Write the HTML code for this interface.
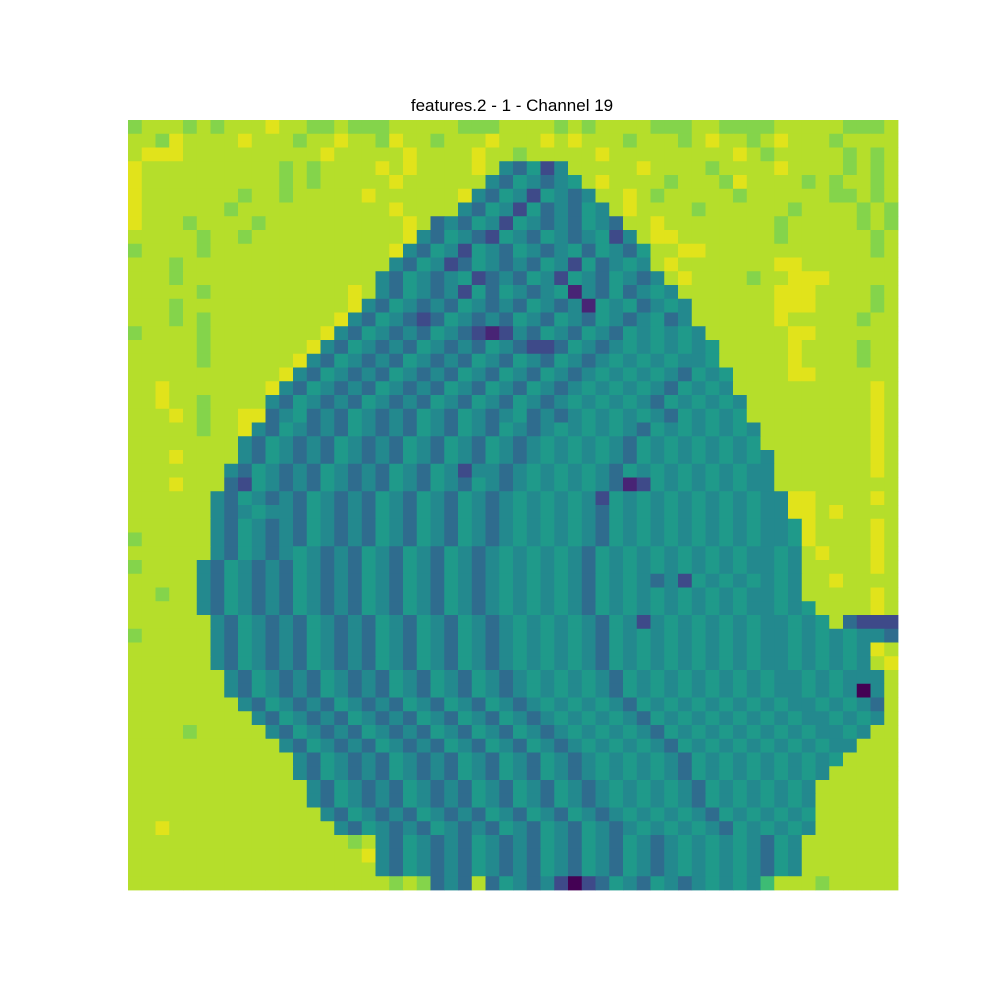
<!DOCTYPE html>
<html><head><meta charset="utf-8">
<style>
html,body{margin:0;padding:0;background:#fff;}
#wrap{position:relative;width:1000px;height:1000px;background:#fff;}
#title{position:absolute;left:0;width:1024px;top:96px;text-align:center;font-family:"Liberation Sans","DejaVu Sans",sans-serif;font-size:17px;color:#000;}
svg{position:absolute;left:0;top:0;}
</style></head>
<body>
<div id="wrap">
<div id="title">features.2 - 1 - Channel 19</div>
<svg id="heat" width="1000" height="1000"></svg>
</div>
<script>
const palette = ["#440154","#482475","#3e4a89","#2f6c8e","#23898e","#1f9a8a","#3dbc74","#84d44b","#b5de2b","#e1e31b"];
const gridRows = [
"78887878889887787778888877788887878888777887777888887778",
"88798888988878898879887888988898988878887898878988878888",
"89998888888888988888988889887888889888888888987888887878",
"988888888887878888989888898|43524|888889888878888988887878",
"98888888888787888889888888|4354345|89888878887988887878878",
"9888888878878888898888889|435425434|8898788888788888877878",
"988888878888888888898888|43542534354|898888788888878888787",
"9888788887888888888898|34354254343543|88988888888788888787",
"888887887888888888889|4354325435434524|8998888888788888878",
"78888788888888888889|435425435434535435|889988888888888878",
"8887888888888888888|4354235434354253454|898888888998888888",
"888788888888888888|435434523435425435434|89888878899988888",
"888887888888888898|4354342535434514353454|8888888999888878",
"88878888888888889|435434354343543415453454|888888999888878",
"8887878888888889|4354323543435435435434534|888888988888788",
"788887888888889|435434354321243543543545454|88888899888888",
"88888788888889|43543435434354322354345454545|8888898888788",
"8888878888889|435434354343543543543454545445|8888898888788",
"888888888889|43543435434354354354345454543545|888899888888",
"88988888889|435434354343543543543454545435454|888888888898",
"8898878888|43543435434354354354345454543545454|88888888898",
"8889878899|34534354343543543453434545454354545|88888888898",
"888887889|4354343543435435435434545454354545454|8888888898",
"88888888|43543435434354354354345454543545454545|8888888898",
"88898888|435434354343543543543454545435454545454|888888898",
"8888888|4354343543435435424434545454354545454544|888888898",
"8889888|3254343543435435435434545454312545454544|888888888",
"888888|435434354343543543543454545425454545454544|99888898",
"888888|434544354343543543543454545435454545454544|99898888",
"888888|4354343543435435435434545454354545454545445|9888898",
"788888|4354343543435435435434545454354545454545445|9888898",
"888888|4354345434354354354345454543545454545454454|8988898",
"78888|43543435434354354354345454543545454545454454|8888898",
"88888|43543435434354354354345454543545434254545454|8898888",
"88788|43543435434354354354345454543545454545454454|8888898",
"88888|435434354343543543543454545435454545454544545|888898",
"888888|435434354343543543543454545435424545454544545|8|3222",
"788888|43543435434354354354345454543545454545454454545443",
"888888|435434354343543543543454545435454545454544545454|98",
"888888|435434354343543543543454545435454545454544545454|89",
"8888888|435434354343543543543454545435454545454544545444|8",
"8888888|435434354343543543543454545435454545454544545404|8",
"88888888|43543435434354354354345454543545454545454454543|8",
"888888888|4354343543435435435434545454354545454545445454|8",
"8888788888|43543435434354354354345454543545454545454454|88",
"88888888888|435434354343543543543454545435454545454544|888",
"888888888888|4354343543435435435434545454354545454545|8888",
"888888888888|435434354343543543543454545435454545454|88888",
"8888888888888|4354343543435435435434545454354545454|888888",
"8888888888888|4354343543435435435434545454354545454|888888",
"88888888888888|435434354343543543543454545435454545|888888",
"889888888888888|43543435434354354354345454543545454|888888",
"888888888888888878|4354343543435435435434545454354|8888888",
"888888888888888889|4354343543435435435434545454354|8888888",
"888888888888888888|4354343543435435435434545454354|8888888",
"8888888888888888888|78734383543420235435434545468|8878888"
];
const xMin = 128, yMin = 120, plotW = 770, plotH = 770;
const svg = document.getElementById('heat');
const NS = "http://www.w3.org/2000/svg";
const grid = gridRows.map(r => r.replace(/\|/g,''));
const nRows = grid.length;
const nCols = 56;
function xScale(c){ return xMin + c * plotW / nCols; }
function yScale(r){ return yMin + r * plotH / nRows; }
for (let r = 0; r < nRows; r++) {
  let row = grid[r];
  while (row.length < nCols) row += '8';
  for (let c = 0; c < nCols; c++) {
    const v = parseInt(row[c], 10);
    const rect = document.createElementNS(NS, 'rect');
    
    
    const x0 = xScale(c), x1 = xScale(c + 1), y0 = yScale(r), y1 = yScale(r + 1);
    rect.setAttribute('x', x0.toFixed(2));
    rect.setAttribute('y', y0.toFixed(2));
    rect.setAttribute('width', (x1 - x0 + 0.4).toFixed(2));
    rect.setAttribute('height', (y1 - y0 + 0.4).toFixed(2));
    rect.setAttribute('fill', palette[v]);
    svg.appendChild(rect);
  }
}
</script>
</body></html>
